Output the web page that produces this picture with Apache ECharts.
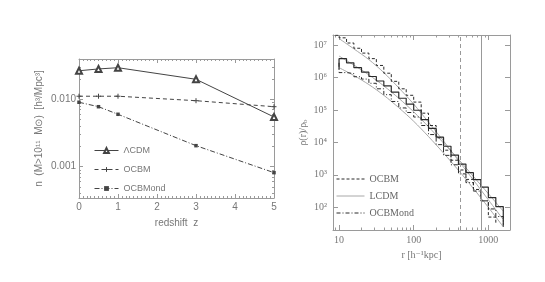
<!DOCTYPE html>
<html><head><meta charset="utf-8">
<script src="https://cdn.jsdelivr.net/npm/echarts@6/dist/echarts.min.js"></script>
<style>html,body{margin:0;padding:0;background:#fff}#c{width:545px;height:282px}</style>
</head><body><div id="c"></div>
<script>
// ---------- Left panel: number density vs redshift ----------
const redshift = [0, 0.5, 1, 3, 5];
const nLCDM    = [0.0265, 0.0282, 0.0294, 0.0198, 0.00546];
const nOCBM    = [0.0111, 0.0111, 0.0111, 0.00953, 0.00776];
const nOCBMond = [0.00903, 0.00776, 0.00599, 0.00205, 0.000815];
const leftXTicks = [0, 1, 2, 3, 4, 5];
const leftYTicks = [0.001, 0.01];
const leftYTickLabels = ['0.001', '0.010'];
const leftYRange = [0.000343, 0.0396];

// ---------- Right panel: density profiles ----------
const rOCBM   = [8.9, 10, 12.6, 15.8, 20, 25.1, 31.6, 39.8, 50.1, 63.1, 79.4, 100, 126, 158, 200, 251, 316, 398, 501, 631, 794, 1000, 1259];
const rhoOCBM = [2.0e7, 1.66e7, 1.15e7, 7.94e6, 5.62e6, 3.80e6, 2.34e6, 1.35e6, 7.59e5, 4.47e5, 2.82e5, 1.74e5, 7.94e4, 3.31e4, 1.38e4, 5.75e3, 2.82e3, 1.41e3, 724, 355, 158, 50, 32];
const rLCDM   = [10, 10, 12.6, 15.8, 20, 25.1, 31.6, 39.8, 50.1, 63.1, 79.4, 100, 126, 158, 200, 251, 316, 398, 501, 631, 794, 1000, 1259, 1585, 1585];
const rhoLCDM = [1.8e6, 3.8e6, 2.82e6, 2.0e6, 1.45e6, 1.07e6, 7.76e5, 5.5e5, 3.55e5, 2.29e5, 1.51e5, 9.77e4, 5.01e4, 2.69e4, 1.45e4, 7.59e3, 4.07e3, 2.14e3, 1.17e3, 708, 417, 200, 105, 66, 29];
const rOCBMond   = [10, 10, 12.6, 15.8, 20, 25.1, 31.6, 39.8, 50.1, 63.1, 79.4, 100, 126, 158, 200, 251, 316, 398, 501, 631, 794, 1000, 1259, 1585];
const rhoOCBMond = [2.82e6, 1.41e6, 1.32e6, 1.05e6, 8.91e5, 6.61e5, 4.47e5, 2.95e5, 1.82e5, 1.15e5, 8.32e4, 6.03e4, 3.31e4, 1.74e4, 8.51e3, 3.98e3, 2.04e3, 1.07e3, 575, 316, 158, 89, 52, 25];
const rFit          = [10, 15.8, 25.1, 39.8, 63.1, 100, 158, 251, 398, 631, 1000, 1585];
const rhoFitOCBM    = [1.58e7, 7.59e6, 3.55e6, 1.41e6, 4.79e5, 1.51e5, 4.17e4, 1.10e4, 2.75e3, 692, 170, 41.7];
const rhoFitLCDM    = [4.57e6, 2.40e6, 1.20e6, 5.50e5, 2.29e5, 8.71e4, 3.02e4, 9.55e3, 3.02e3, 891, 263, 75.9];
const rhoFitOCBMond = [2.0e6, 1.15e6, 6.03e5, 2.82e5, 1.17e5, 4.47e4, 1.51e4, 4.68e3, 1.38e3, 380, 100, 25.1];
const rVerticalDashed = 417;
const rVerticalSolid = 813;
const rightXTicks = [10, 100, 1000];
const rightYTicks = [1e2, 1e3, 1e4, 1e5, 1e6, 1e7];
const rightXRange = [8.3, 1950];
const rightYRange = [20, 2.03e7];

// ---------- helpers ----------
const L = v => Math.log10(v);
const SANS = '"Liberation Sans", Arial, sans-serif';
const SERIF = '"Liberation Serif", "DejaVu Serif", serif';
const AX = '#9a9a9a', TXT = '#777';
const SUP = {'0':'⁰','1':'¹','2':'²','3':'³','4':'⁴','5':'⁵','6':'⁶','7':'⁷','8':'⁸','9':'⁹','-':'⁻'};
function minorLogs(lo, hi) {
  const out = [];
  for (let n = Math.floor(L(lo)); n <= Math.ceil(L(hi)); n++)
    for (let k = 2; k <= 9; k++) { const v = k * Math.pow(10, n); if (v > lo && v < hi) out.push(L(v)); }
  return out;
}
function axis(o) {
  const base = {
    type: 'value', splitLine: {show: false}, minorSplitLine: {show: false},
    axisLine: {show: true, onZero: false, lineStyle: {color: AX, width: 1}},
    axisTick: {show: true, inside: true, length: 4, lineStyle: {color: AX}},
    axisLabel: {show: false},
    minorTick: {show: false}
  };
  return Object.assign(base, o);
}
const hiddenLine = {show: false, onZero: false};
const leftMinor = minorLogs(leftYRange[0], leftYRange[1]);
const rightXMinor = minorLogs(rightXRange[0], rightXRange[1]);

const xAxes = [
  axis({gridIndex: 0, position: 'bottom', min: 0, max: 5, interval: 1,
    minorTick: {show: true, splitNumber: 10, length: 2, lineStyle: {color: AX}},
    axisLabel: {show: true, customValues: leftXTicks, color: TXT, fontSize: 10, fontFamily: SANS, margin: 4},
    name: 'redshift  z', nameLocation: 'middle', nameGap: 20,
    nameTextStyle: {color: TXT, fontSize: 10, fontFamily: SANS}}),
  axis({gridIndex: 0, position: 'top', min: 0, max: 5, interval: 1,
    minorTick: {show: true, splitNumber: 10, length: 2, lineStyle: {color: AX}}}),
  axis({gridIndex: 1, position: 'bottom', min: L(rightXRange[0]), max: L(rightXRange[1]),
    axisTick: {show: true, inside: true, length: 5, customValues: rightXTicks.map(L), lineStyle: {color: AX}},
    axisLabel: {show: true, customValues: rightXTicks.map(L), formatter: v => String(Math.round(Math.pow(10, v))),
      color: TXT, fontSize: 10, fontFamily: SERIF, margin: 5},
    name: 'r [h⁻¹kpc]', nameLocation: 'middle', nameGap: 18,
    nameTextStyle: {color: TXT, fontSize: 10, fontFamily: SERIF}}),
  axis({gridIndex: 1, position: 'bottom', min: L(rightXRange[0]), max: L(rightXRange[1]),
    axisLine: hiddenLine,
    axisTick: {show: true, inside: true, length: 2.5, customValues: rightXMinor, lineStyle: {color: AX}}}),
  axis({gridIndex: 1, position: 'top', min: L(rightXRange[0]), max: L(rightXRange[1]),
    axisTick: {show: true, inside: true, length: 5, customValues: rightXTicks.map(L), lineStyle: {color: AX}}}),
  axis({gridIndex: 1, position: 'top', min: L(rightXRange[0]), max: L(rightXRange[1]),
    axisLine: hiddenLine,
    axisTick: {show: true, inside: true, length: 2.5, customValues: rightXMinor, lineStyle: {color: AX}}})
];

const yAxes = [
  axis({gridIndex: 0, position: 'left', min: L(leftYRange[0]), max: L(leftYRange[1]),
    axisTick: {show: true, inside: true, length: 4, customValues: leftYTicks.map(L), lineStyle: {color: AX}},
    axisLabel: {show: true, customValues: leftYTicks.map(L),
      formatter: v => leftYTickLabels[leftYTicks.findIndex(t => Math.abs(L(t) - v) < 1e-6)],
      color: TXT, fontSize: 10, fontFamily: SANS, margin: 3},
    name: 'n  (M>10¹¹  M⊙)  [h³/Mpc³]', nameLocation: 'middle', nameGap: 35, nameRotate: 90,
    nameTextStyle: {color: TXT, fontSize: 10, fontFamily: SANS}}),
  axis({gridIndex: 0, position: 'left', min: L(leftYRange[0]), max: L(leftYRange[1]),
    axisLine: hiddenLine,
    axisTick: {show: true, inside: true, length: 2, customValues: leftMinor, lineStyle: {color: AX}}}),
  axis({gridIndex: 0, position: 'right', min: L(leftYRange[0]), max: L(leftYRange[1]),
    axisTick: {show: true, inside: true, length: 4, customValues: leftYTicks.map(L), lineStyle: {color: AX}}}),
  axis({gridIndex: 0, position: 'right', min: L(leftYRange[0]), max: L(leftYRange[1]),
    axisLine: hiddenLine,
    axisTick: {show: true, inside: true, length: 2, customValues: leftMinor, lineStyle: {color: AX}}}),
  axis({gridIndex: 1, position: 'left', min: L(rightYRange[0]), max: L(rightYRange[1]),
    axisTick: {show: true, inside: true, length: 5, customValues: rightYTicks.map(L), lineStyle: {color: AX}},
    axisLabel: {show: true, customValues: rightYTicks.map(L),
      formatter: v => '10' + String(Math.round(v)).split('').map(c => SUP[c]).join(''),
      color: TXT, fontSize: 10, fontFamily: SERIF, margin: 6},
    name: '{a|ρ(r)/ρ}{s|b}', nameLocation: 'middle', nameGap: 24, nameRotate: 90,
    nameTextStyle: {color: TXT, fontSize: 10, fontFamily: SERIF,
      rich: {a: {fontSize: 10, fontFamily: SERIF, color: TXT}, s: {fontSize: 7, fontFamily: SERIF, color: TXT, padding: [5, 0, 0, 0]}}}}),
  axis({gridIndex: 1, position: 'right', min: L(rightYRange[0]), max: L(rightYRange[1]),
    axisTick: {show: true, inside: true, length: 5, customValues: rightYTicks.map(L), lineStyle: {color: AX}}})
];

const LC = '#444', RC = '#2a2a2a', FC = '#a8a8a8';
const series = [
  {name: 'ΛCDM', type: 'line', xAxisIndex: 0, yAxisIndex: 0,
   data: redshift.map((z, i) => [z, L(nLCDM[i])]),
   symbol: 'emptyTriangle', symbolSize: 6, lineStyle: {color: LC, width: 1},
   itemStyle: {color: LC, borderWidth: 0.8}, z: 3},
  {name: 'OCBM', type: 'line', xAxisIndex: 0, yAxisIndex: 0,
   data: redshift.map((z, i) => [z, L(nOCBM[i])]),
   symbol: 'path://M0,5L10,5M5,0L5,10', symbolSize: 5,
   lineStyle: {color: LC, width: 1, type: [4, 3]}, itemStyle: {color: LC, borderColor: LC, borderWidth: 1}},
  {name: 'OCBMond', type: 'line', xAxisIndex: 0, yAxisIndex: 0,
   data: redshift.map((z, i) => [z, L(nOCBMond[i])]),
   symbol: 'rect', symbolSize: 3.5,
   lineStyle: {color: LC, width: 1, type: [5, 2, 1, 2]}, itemStyle: {color: LC}},

  {name: 'fitOCBM', type: 'line', xAxisIndex: 2, yAxisIndex: 4, smooth: 0.3, symbol: 'none',
   data: rFit.map((r, i) => [L(r), L(rhoFitOCBM[i])]), lineStyle: {color: FC, width: 1},
   markLine: {silent: true, symbol: ['none', 'none'], label: {show: false}, animation: false,
     data: [{xAxis: L(rVerticalDashed), lineStyle: {type: [4, 3], color: '#999', width: 1}},
            {xAxis: L(rVerticalSolid), lineStyle: {type: 'solid', color: '#999', width: 1}}]}},
  {name: 'fitLCDM', type: 'line', xAxisIndex: 2, yAxisIndex: 4, smooth: 0.3, symbol: 'none',
   data: rFit.map((r, i) => [L(r), L(rhoFitLCDM[i])]), lineStyle: {color: FC, width: 1}},
  {name: 'fitOCBMond', type: 'line', xAxisIndex: 2, yAxisIndex: 4, smooth: 0.3, symbol: 'none',
   data: rFit.map((r, i) => [L(r), L(rhoFitOCBMond[i])]), lineStyle: {color: FC, width: 1}},

  {name: 'OCBM_r', type: 'line', xAxisIndex: 2, yAxisIndex: 4, step: 'end', symbol: 'none',
   data: rOCBM.map((r, i) => [L(r), L(rhoOCBM[i])]), lineStyle: {color: RC, width: 1, type: [3, 2]}},
  {name: 'LCDM_r', type: 'line', xAxisIndex: 2, yAxisIndex: 4, step: 'end', symbol: 'none',
   data: rLCDM.map((r, i) => [L(r), L(rhoLCDM[i])]), lineStyle: {color: RC, width: 1.2}},
  {name: 'OCBMond_r', type: 'line', xAxisIndex: 2, yAxisIndex: 4, step: 'end', symbol: 'none',
   data: rOCBMond.map((r, i) => [L(r), L(rhoOCBMond[i])]), lineStyle: {color: RC, width: 1, type: [4, 2, 1, 2]}}
];

const option = {
  animation: false,
  backgroundColor: '#fff',
  grid: [
    {left: 79, top: 59, width: 195, height: 139},
    {left: 333, top: 35, width: 177, height: 195}
  ],
  xAxis: xAxes,
  yAxis: yAxes,
  legend: [
    {data: ['ΛCDM', 'OCBM', 'OCBMond'], orient: 'vertical', left: 89, top: 141,
     itemWidth: 24, itemHeight: 6, itemGap: 10, selectedMode: false,
     lineStyle: {width: 1}, itemStyle: {borderWidth: 1},
     textStyle: {color: TXT, fontSize: 9, fontFamily: SANS}},
    {data: ['OCBM_r', {name: 'LCDM_r', lineStyle: {color: FC, width: 1}}, 'OCBMond_r'],
     formatter: n => n.replace('_r', ''), orient: 'vertical', left: 331, top: 169,
     itemWidth: 28, itemHeight: 8, itemGap: 7, selectedMode: false, itemStyle: {opacity: 0},
     lineStyle: {width: 1},
     textStyle: {color: '#666', fontSize: 10, fontFamily: SERIF}}
  ],
  series: series
};
const chart = echarts.init(document.getElementById('c'));
chart.setOption(option);
</script>
</body></html>
